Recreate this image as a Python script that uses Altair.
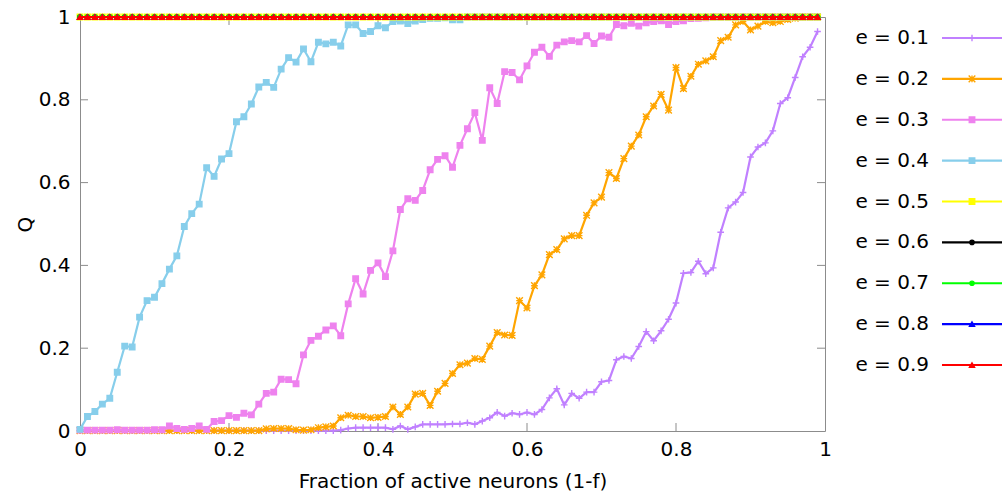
import altair as alt
import pandas as pd

# Fraction of active neurons (1-f), sampled every 0.01
FRACTION = [round(i * 0.01, 2) for i in range(100)]

Q_E01 = [0.001] * 35 + [
    0.002, 0.006, 0.008, 0.008, 0.008, 0.008, 0.008, 0.004, 0.012, 0.004,
    0.010, 0.016, 0.016, 0.016, 0.016, 0.017, 0.017, 0.020, 0.016, 0.024,
    0.032, 0.045, 0.036, 0.043, 0.040, 0.045, 0.040, 0.052, 0.080, 0.102,
    0.063, 0.091, 0.079, 0.094, 0.094, 0.119, 0.122, 0.172, 0.180, 0.175,
    0.204, 0.240, 0.218, 0.242, 0.270, 0.309, 0.381, 0.383, 0.410, 0.380,
    0.394, 0.480, 0.539, 0.553, 0.576, 0.662, 0.686, 0.696, 0.725, 0.791,
    0.805, 0.854, 0.904, 0.927, 0.965,
]

Q_E02 = [0.001] * 25 + [
    0.005, 0.006, 0.006, 0.006, 0.003, 0.002, 0.003, 0.008, 0.010, 0.012,
    0.032, 0.038, 0.035, 0.035, 0.032, 0.033, 0.035, 0.058, 0.040, 0.058,
    0.089, 0.091, 0.062, 0.096, 0.115, 0.139, 0.160, 0.164, 0.175, 0.173,
    0.205, 0.238, 0.232, 0.231, 0.315, 0.297, 0.351, 0.377, 0.426, 0.438,
    0.464, 0.472, 0.472, 0.521, 0.551, 0.565, 0.624, 0.610, 0.658, 0.688,
    0.715, 0.759, 0.785, 0.813, 0.775, 0.878, 0.827, 0.857, 0.886, 0.894,
    0.904, 0.943, 0.951, 0.981, 0.989, 0.969, 0.978, 0.989, 0.986, 0.989,
    0.994, 0.997, 1.0, 1.0, 1.0,
]

Q_E03 = [
    0.002, 0.002, 0.002, 0.002, 0.002, 0.003, 0.002, 0.002, 0.002, 0.002,
    0.003, 0.003, 0.012, 0.006, 0.004, 0.006, 0.012, 0.004, 0.023, 0.025,
    0.037, 0.033, 0.043, 0.039, 0.065, 0.091, 0.094, 0.125, 0.124, 0.114,
    0.184, 0.219, 0.229, 0.244, 0.254, 0.230, 0.307, 0.368, 0.331, 0.388,
    0.406, 0.373, 0.435, 0.535, 0.561, 0.557, 0.581, 0.631, 0.656, 0.665,
    0.637, 0.690, 0.730, 0.769, 0.702, 0.829, 0.791, 0.868, 0.866, 0.848,
    0.882, 0.915, 0.927, 0.905, 0.932, 0.940, 0.943, 0.940, 0.955, 0.936,
    0.954, 0.951, 0.982, 0.979, 0.985, 0.978, 0.986, 0.989, 0.991, 0.982,
    0.989, 0.991, 0.996, 0.997, 0.998,
] + [1.0] * 15

Q_E04 = [
    0.004, 0.035, 0.047, 0.065, 0.079, 0.142, 0.205, 0.203, 0.275, 0.315,
    0.323, 0.356, 0.391, 0.423, 0.494, 0.525, 0.548, 0.636, 0.615, 0.657,
    0.670, 0.747, 0.759, 0.790, 0.831, 0.842, 0.830, 0.874, 0.902, 0.891,
    0.923, 0.892, 0.939, 0.935, 0.939, 0.930, 0.981, 0.981, 0.960, 0.965,
    0.979, 0.974, 0.989, 0.990, 0.984, 0.990, 0.994, 0.997, 0.997, 0.998,
    0.993, 0.993,
] + [1.0] * 48

# e >= 0.5 recall perfectly at every fraction
Q_E05 = [1.0] * 100
Q_E06 = [1.0] * 100
Q_E07 = [1.0] * 100
Q_E08 = [1.0] * 100
Q_E09 = [1.0] * 100

LABELS = ["e = 0.1", "e = 0.2", "e = 0.3", "e = 0.4", "e = 0.5",
          "e = 0.6", "e = 0.7", "e = 0.8", "e = 0.9"]
SERIES = [Q_E01, Q_E02, Q_E03, Q_E04, Q_E05, Q_E06, Q_E07, Q_E08, Q_E09]
COLORS = ["#c080ff", "#ffa500", "#ee82ee", "#87ceeb", "#ffff00",
          "#000000", "#00ff00", "#0000ff", "#ff0000"]
PLUS = "M-1,0H1M0,-1V1"
STAR = "M-1,-1L1,1M-1,1L1,-1M-1,0H1M0,-1V1"
SHAPES = [PLUS, STAR, "square", "square", "square",
          "circle", "circle", "triangle-up", "triangle-up"]
SIZES = [44, 44, 30, 30, 30, 18, 18, 26, 26]

X_TICKS = [0, 0.2, 0.4, 0.6, 0.8, 1]
Y_TICKS = [0, 0.2, 0.4, 0.6, 0.8, 1]

W, H = 745, 414
FONT = "DejaVu Sans"
FS = 20
FRAME = "#8c8c8c"

xscale = alt.Scale(domain=[0, 1], nice=False, zero=False)
yscale = alt.Scale(domain=[0, 1], nice=False, zero=False)
x_enc = alt.X("f:Q", scale=xscale,
              axis=alt.Axis(values=X_TICKS, format="~g", labelFlush=False,
                            title="Fraction of active neurons (1-f)"))
y_enc = alt.Y("q:Q", scale=yscale,
              axis=alt.Axis(values=Y_TICKS, format="~g", labelFlush=False,
                            title="Q"))

layers = []
for label, values, color, shape, size in zip(LABELS, SERIES, COLORS, SHAPES, SIZES):
    df = pd.DataFrame({"f": FRACTION, "q": values})
    base = alt.Chart(df).encode(x=x_enc, y=y_enc)
    layers.append(base.mark_line(color=color, strokeWidth=2.2))
    layers.append(base.mark_point(shape=shape, size=size, filled=True,
                                  fill=color, stroke=color, strokeWidth=1.4,
                                  opacity=1))

# inward tick marks on all four sides of the frame
xt = pd.DataFrame({"f": X_TICKS[1:-1]})
yt = pd.DataFrame({"q": Y_TICKS[1:-1]})
ticks = [
    alt.Chart(xt).mark_rule(color=FRAME).encode(x=x_enc, y=alt.value(H), y2=alt.value(H - 8)),
    alt.Chart(xt).mark_rule(color=FRAME).encode(x=x_enc, y=alt.value(0), y2=alt.value(8)),
    alt.Chart(yt).mark_rule(color=FRAME).encode(y=y_enc, x=alt.value(0), x2=alt.value(8)),
    alt.Chart(yt).mark_rule(color=FRAME).encode(y=y_enc, x=alt.value(W), x2=alt.value(W - 8)),
]

# key to the right of the frame: label, then line sample with its marker
key_df = pd.DataFrame({"label": LABELS, "color": COLORS, "shape": SHAPES, "size": SIZES})
key_y = alt.Y("label:N", sort=LABELS, axis=None,
              scale=alt.Scale(type="point", domain=LABELS, range=[21, 348], padding=0))
key_text = alt.Chart(key_df).mark_text(
    align="right", baseline="middle", font=FONT, fontSize=FS, color="black"
).encode(x=alt.value(W + 104), y=key_y, text="label:N")
key_line = alt.Chart(key_df).mark_rule(strokeWidth=2.2).encode(
    x=alt.value(W + 117), x2=alt.value(W + 177), y=key_y,
    color=alt.Color("color:N", scale=None))
key_pts = alt.Chart(key_df).mark_point(filled=True, opacity=1, strokeWidth=1.4).encode(
    x=alt.value(W + 147), y=key_y,
    fill=alt.Fill("color:N", scale=None),
    stroke=alt.Stroke("color:N", scale=None),
    shape=alt.Shape("shape:N", scale=None),
    size=alt.Size("size:Q", scale=None),
)
key = alt.layer(key_text, key_line, key_pts)

plot = alt.layer(*ticks, *layers)

chart = alt.layer(plot, key).resolve_scale(y="independent").properties(
    width=W, height=H,
    autosize=alt.AutoSizeParams(type="none"),
    padding={"left": 80, "top": 17, "right": 181, "bottom": 66},
    background="white",
).configure_axis(
    grid=False, ticks=False, domain=False,
    labelFont=FONT, labelFontSize=FS, labelColor="black",
    titleFont=FONT, titleFontSize=FS, titleColor="black", titleFontWeight="normal",
).configure_axisX(
    labelPadding=8, titlePadding=12,
).configure_axisY(
    labelPadding=10, titlePadding=3,
).configure_view(
    stroke=FRAME, strokeWidth=1,
)

chart.save("out.html", embed_options={"renderer": "svg", "actions": False})
